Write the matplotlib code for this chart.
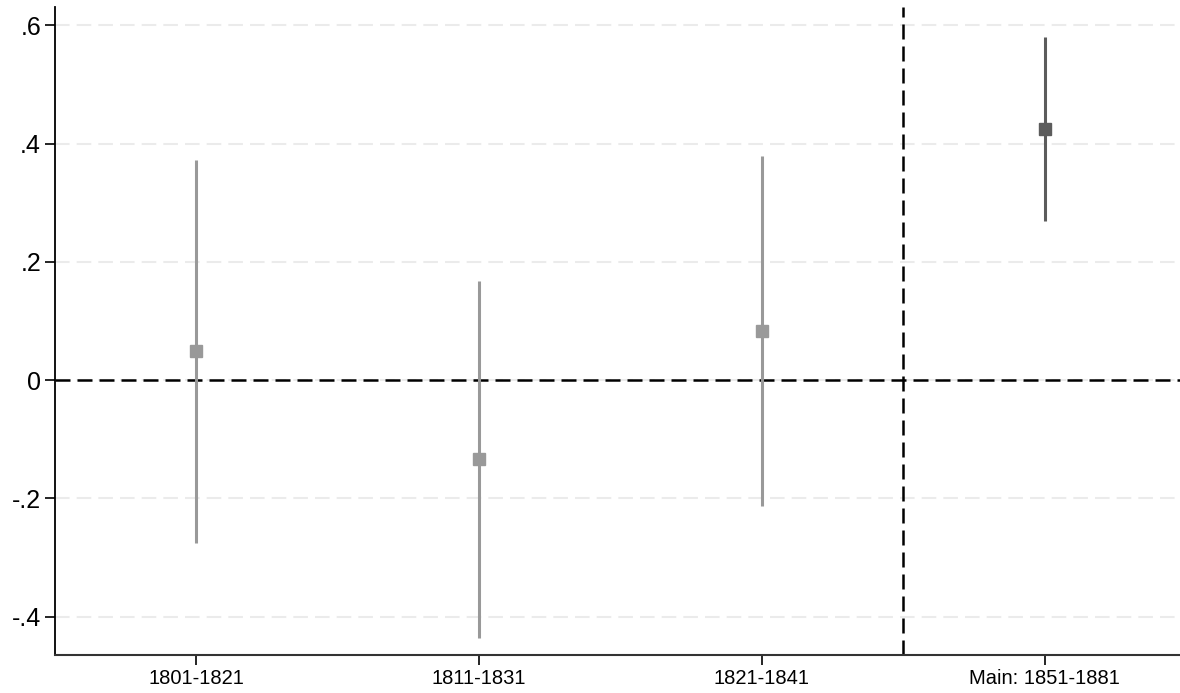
import matplotlib.pyplot as plt

plt.rcParams['font.family'] = ['Liberation Sans', 'DejaVu Sans']

# period labels and estimates with 95% bounds
periods = ['1801-1821', '1811-1831', '1821-1841', 'Main: 1851-1881']
coefs = [0.049, -0.134, 0.083, 0.424]
ci_low = [-0.275, -0.436, -0.213, 0.269]
ci_high = [0.372, 0.168, 0.379, 0.580]
colors = ['#999999', '#999999', '#999999', '#5c5c5c']

yticks = [-0.4, -0.2, 0, 0.2, 0.4, 0.6]
ytick_labels = ['-.4', '-.2', '0', '.2', '.4', '.6']

fig = plt.figure(figsize=(11.8, 6.93), dpi=100)
ax = fig.add_axes([0.0466, 0.0548, 0.9585, 0.935])

xs = list(range(1, len(periods) + 1))

# light dashed grid
for t in yticks:
    ax.axhline(t, color='#ebebeb', lw=1.5, ls=(0, (7, 3.4)), zorder=0)

ax.axhline(0, color='black', lw=1.8, ls=(0, (6, 2.8)), zorder=1)
ax.axvline(3.5, color='black', lw=1.8, ls=(0, (6, 2.8)), zorder=1)

for x, c, lo, hi, col in zip(xs, coefs, ci_low, ci_high, colors):
    ax.vlines(x, lo, hi, color=col, lw=2.2, zorder=2)
    ax.plot(x, c, marker='s', ms=8, color=col, mec=col, zorder=3)

ax.set_xlim(0.5, 4.5)
ax.set_ylim(-0.465, 0.631)
ax.set_xticks(xs)
ax.set_xticklabels(periods, fontsize=14.5)
ax.set_yticks(yticks)
ax.set_yticklabels(ytick_labels, fontsize=18)
ax.tick_params(axis='y', length=7, width=1.2, pad=3)
ax.tick_params(axis='x', length=7, width=1.2, pad=3)

ax.spines['top'].set_visible(False)
ax.spines['right'].set_visible(False)
ax.spines['left'].set_color('black')
ax.spines['left'].set_linewidth(1.3)
ax.spines['bottom'].set_color('#333333')
ax.spines['bottom'].set_linewidth(1.5)

fig.savefig('out.png', dpi=100)
